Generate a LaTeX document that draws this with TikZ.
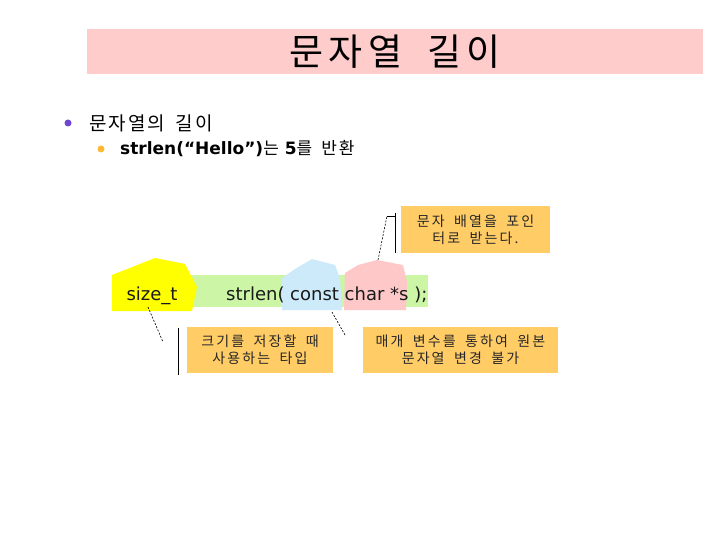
\documentclass[tikz,border=0pt]{standalone}
\usepackage{fontspec}
\setmainfont{DejaVu Sans}
\newfontfamily\krtitle{Noto Sans CJK KR}[LetterSpace=15, WordSpace=1]
\newfontfamily\kr{Noto Sans CJK KR}[LetterSpace=11, WordSpace=1.6]
\newfontfamily\krnote{Noto Sans CJK KR}[LetterSpace=15, WordSpace=1.8]
\newcommand\krtext[1]{{\kr\mdseries #1}}

\definecolor{titlepink}{RGB}{255,204,204}
\definecolor{bulletpurple}{RGB}{110,70,210}
\definecolor{bulletorange}{RGB}{255,185,50}
\definecolor{codegreen}{RGB}{204,245,165}
\definecolor{typeyellow}{RGB}{255,255,0}
\definecolor{constblue}{RGB}{204,234,250}
\definecolor{ptrpink}{RGB}{255,200,200}
\definecolor{notebox}{RGB}{255,204,102}

\tikzset{
    titlebar/.style={fill=titlepink, minimum width=616pt, minimum height=45pt,
        inner sep=0pt, font=\krtitle\fontsize{37}{40}\selectfont},
    code/.style={inner sep=0pt, text=black!90, font=\fontsize{18}{20}\selectfont},
    callout/.style={fill=notebox, minimum height=46pt, inner sep=0pt, align=center,
        text=black!85, font=\krnote\fontsize{14}{17}\selectfont},
    leader/.style={line width=0.6pt, dash pattern=on 2pt off 1.5pt},
    bracket/.style={line width=0.9pt}
}

\begin{document}
\begin{tikzpicture}[x=1pt, y=-1pt]
    \useasboundingbox (0,0) rectangle (720,540);

    % ==========================================
    % 1. TITULO E ITENS
    % ==========================================
    \node[titlebar] (title) at (395,52) {문자열 길이};

    \fill[bulletpurple] (68,123) circle (3.5); % marcador nivel 1
    \node[anchor=base west, inner sep=0pt, font=\kr\fontsize{19}{22}\selectfont]
        (item) at (89,131) {문자열의 길이};
    \fill[bulletorange] (101,149) circle (3.5); % marcador nivel 2
    \node[anchor=base west, inner sep=0pt, font=\bfseries\fontsize{17}{20}\selectfont]
        (subitem) at (120,155) {strlen(“Hello”)\krtext{는} 5\krtext{를 반환}};

    % ==========================================
    % 2. PROTOTIPO (faixa verde e destaques)
    % ==========================================
    \fill[codegreen] (112,275) rectangle (428,307);
    \fill[typeyellow] (112,275) -- (155,258) -- (185,264) -- (197,287)
        -- (192,311) -- (112,311) -- cycle;
    \fill[constblue] (282,278) -- (295,269) -- (312,259) -- (335,265)
        -- (340,278) -- (342,310) -- (282,310) -- cycle;
    \fill[ptrpink] (345,273) -- (358,265) -- (377,260) -- (403,265)
        -- (407,282) -- (406,310) -- (344,310) -- cycle;
    \node[code, anchor=base] (rettype) at (152,300) {size\_t};
    \node[code, anchor=base west] (proto) at (226,300) {strlen( const char *s );};

    % ==========================================
    % 3. NOTAS
    % ==========================================
    \node[callout, minimum width=149pt] (ptrnote) at (475.5,229.5)
        {문자 배열을 포인\\터로 받는다.};
    \node[callout, minimum width=146pt] (typenote) at (260,350)
        {크기를 저장할 때\\사용하는 타입};
    \node[callout, minimum width=195pt] (constnote) at (460.5,350)
        {매개 변수를 통하여 원본\\문자열 변경 불가};

    % linhas de chamada
    \coordinate (ptrtip) at (378,260);
    \coordinate (ptrknee) at (387,216);
    \coordinate (ptrbar) at (395,216);
    \coordinate (ptrbartop) at (395,213);
    \coordinate (ptrbarbottom) at (395,253);
    \draw[leader] (ptrtip) -- (ptrknee);
    \draw[bracket] (ptrknee) -- (ptrbar);
    \draw[bracket] (ptrbartop) -- (ptrbarbottom);

    \coordinate (typetip) at (148,307);
    \coordinate (typeend) at (163,342);
    \coordinate (typebartop) at (178,328);
    \coordinate (typebarbottom) at (178,375);
    \draw[leader] (typetip) -- (typeend);
    \draw[bracket] (typebartop) -- (typebarbottom);

    \coordinate (consttip) at (332,312);
    \coordinate (constend) at (345,335);
    \draw[leader] (consttip) -- (constend);

\end{tikzpicture}
\end{document}
